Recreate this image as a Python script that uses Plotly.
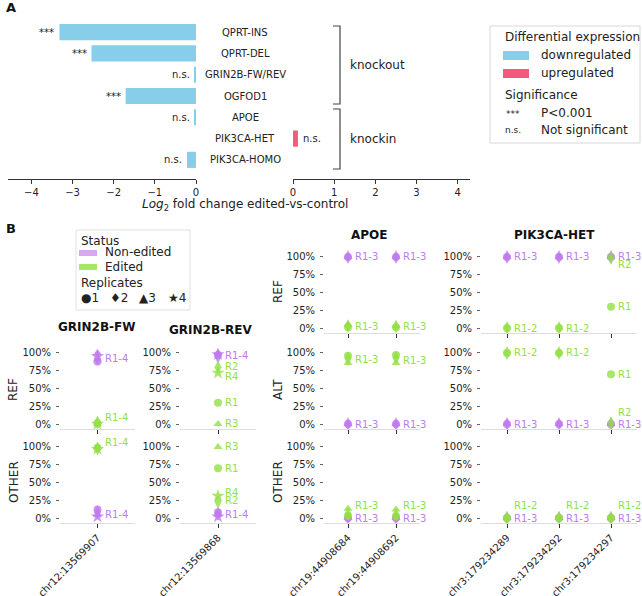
import plotly.graph_objects as go

W, H = 642, 596
FONT = "DejaVu Sans"
TXT = "#222222"


def PX(x):
    return x / W


def PY(y):
    return 1 - y / H


# ---------------- Panel A data ----------------
genes = ["QPRT-INS", "QPRT-DEL", "GRIN2B-FW/REV", "OGFOD1", "APOE", "PIK3CA-HET", "PIK3CA-HOMO"]
log2fc = [-3.32, -2.54, -0.03, -1.71, -0.03, 0.12, -0.22]
significance = ["***", "***", "n.s.", "***", "n.s.", "n.s.", "n.s."]
left_ticks = [-4, -3, -2, -1, 0]
right_ticks = [0, 1, 2, 3, 4]

DOWN = "#87CEEB"
UP = "#F25C7C"

# ---------------- Panel B data ----------------
PURPLE = "#c079f0"
GREEN = "#92e043"
rep_symbols = ["circle", "diamond-tall", "triangle-up", "star"]
pct_ticks = [0, 25, 50, 75, 100]
pct_labels = ["0%", "25%", "50%", "75%", "100%"]

sites_fw = ["chr12:13569907"]
sites_rev = ["chr12:13569868"]
sites_apoe = ["chr19:44908684", "chr19:44908692"]
sites_pik = ["chr3:179234289", "chr3:179234292", "chr3:179234297"]

# values: [site][replicate] in percent
fw_ref_non = [[88, 92, 100, 95]]
fw_ref_edit = [[1, 2, 0, 0]]
fw_other_non = [[12, 8, 5, 2]]
fw_other_edit = [[99, 98, 100, 97]]

rev_ref_non = [[97, 95, 100, 98]]
rev_ref_edit = [[30, 80, 0, 72]]
rev_other_non = [[8, 6, 5, 2]]
rev_other_edit = [[70, 23, 100, 31]]

apoe_ref_non = [[100, 100, 100], [100, 100, 100]]
apoe_ref_edit = [[1, 3, 5], [1, 2, 3]]
apoe_alt_non = [[0, 0, 0], [0, 0, 0]]
apoe_alt_edit = [[96, 92, 86], [97, 93, 86]]
apoe_other_non = [[0, 0, 0], [0, 0, 0]]
apoe_other_edit = [[3, 6, 13], [2, 5, 12]]

pik_ref_non = [[100, 100, 100], [100, 100, 100], [100, 100, 100]]
pik_ref_edit = [[0, 0], [0, 0], [30, 99]]
pik_alt_non = [[0, 0, 0], [0, 0, 0], [0, 0, 0]]
pik_alt_edit = [[100, 100], [100, 100], [70, 1]]
pik_other_non = [[0, 0, 0], [0, 0, 0], [0, 0, 0]]
pik_other_edit = [[0, 0], [0, 0], [0, 0]]

# labels: (site index, status, text, y)
fw_ref_labels = [(0, "non", "R1-4", 92), (0, "edit", "R1-4", 9)]
fw_other_labels = [(0, "edit", "R1-4", 106), (0, "non", "R1-4", 5)]
rev_ref_labels = [(0, "non", "R1-4", 97), (0, "edit", "R2", 81), (0, "edit", "R4", 67),
                  (0, "edit", "R1", 31), (0, "edit", "R3", 1)]
rev_other_labels = [(0, "edit", "R3", 100), (0, "edit", "R1", 70), (0, "edit", "R4", 36),
                    (0, "edit", "R2", 24), (0, "non", "R1-4", 5)]
apoe_ref_labels = [(0, "non", "R1-3", 100), (1, "non", "R1-3", 100),
                   (0, "edit", "R1-3", 2), (1, "edit", "R1-3", 2)]
apoe_alt_labels = [(0, "edit", "R1-3", 91), (1, "edit", "R1-3", 90),
                   (0, "non", "R1-3", 0), (1, "non", "R1-3", 0)]
apoe_other_labels = [(0, "edit", "R1-3", 18), (1, "edit", "R1-3", 18),
                     (0, "non", "R1-3", 0), (1, "non", "R1-3", 0)]
pik_ref_labels = [(0, "non", "R1-3", 100), (1, "non", "R1-3", 100), (2, "non", "R1-3", 100),
                  (2, "edit", "R2", 89), (2, "edit", "R1", 30),
                  (0, "edit", "R1-2", 0), (1, "edit", "R1-2", 0)]
pik_alt_labels = [(0, "edit", "R1-2", 101), (1, "edit", "R1-2", 101), (2, "edit", "R1", 70),
                  (2, "edit", "R2", 16), (0, "non", "R1-3", 0), (1, "non", "R1-3", 0),
                  (2, "non", "R1-3", 0)]
pik_other_labels = [(0, "edit", "R1-2", 18), (1, "edit", "R1-2", 18), (2, "edit", "R1-2", 18),
                    (0, "non", "R1-3", 0), (1, "non", "R1-3", 0), (2, "non", "R1-3", 0)]

subplots = [
    dict(col=0, row=1, sites=sites_fw, non=fw_ref_non, edit=fw_ref_edit, labels=fw_ref_labels),
    dict(col=0, row=2, sites=sites_fw, non=fw_other_non, edit=fw_other_edit, labels=fw_other_labels),
    dict(col=1, row=1, sites=sites_rev, non=rev_ref_non, edit=rev_ref_edit, labels=rev_ref_labels),
    dict(col=1, row=2, sites=sites_rev, non=rev_other_non, edit=rev_other_edit, labels=rev_other_labels),
    dict(col=2, row=0, sites=sites_apoe, non=apoe_ref_non, edit=apoe_ref_edit, labels=apoe_ref_labels),
    dict(col=2, row=1, sites=sites_apoe, non=apoe_alt_non, edit=apoe_alt_edit, labels=apoe_alt_labels),
    dict(col=2, row=2, sites=sites_apoe, non=apoe_other_non, edit=apoe_other_edit, labels=apoe_other_labels),
    dict(col=3, row=0, sites=sites_pik, non=pik_ref_non, edit=pik_ref_edit, labels=pik_ref_labels),
    dict(col=3, row=1, sites=sites_pik, non=pik_alt_non, edit=pik_alt_edit, labels=pik_alt_labels),
    dict(col=3, row=2, sites=sites_pik, non=pik_other_non, edit=pik_other_edit, labels=pik_other_labels),
]

col_px = {0: (60, 135), 1: (180, 256), 2: (324, 420), 3: (481, 637)}
row_px = {0: (252, 333), 1: (348, 429), 2: (442, 523)}

fig = go.Figure()
annotations = []
shapes = []

# ---------------- Panel A ----------------
neg = [v if v < 0 else None for v in log2fc]
pos = [v if v > 0 else None for v in log2fc]
fig.add_trace(go.Bar(x=neg, y=genes, orientation="h", xaxis="x", yaxis="y",
                     marker=dict(color=DOWN, line=dict(width=0)), width=0.76, showlegend=False))
fig.add_trace(go.Bar(x=pos, y=genes, orientation="h", xaxis="x2", yaxis="y",
                     marker=dict(color=UP, line=dict(width=0)), width=0.76, showlegend=False))

layout = dict(
    width=W, height=H, margin=dict(l=0, r=0, t=0, b=0, pad=0, autoexpand=False),
    paper_bgcolor="white", plot_bgcolor="rgba(0,0,0,0)",
    font=dict(family=FONT, color=TXT, size=10),
    barmode="overlay", showlegend=False,
)
axA = dict(showline=True, linecolor="#333", linewidth=1, ticks="outside", ticklen=4,
           tickcolor="#333", showgrid=False, zeroline=False, tickfont=dict(size=10, color=TXT),
           anchor="y", automargin=False)
layout["xaxis"] = dict(axA, domain=[PX(8), PX(196)], range=[-4.57, 0], tickvals=left_ticks)
layout["xaxis2"] = dict(axA, domain=[PX(293), PX(470)], range=[0, 4.3], tickvals=right_ticks)
layout["yaxis"] = dict(domain=[PY(179), PY(13)], type="category", categoryarray=genes,
                       range=[6.9, -0.9], visible=False, anchor="x", automargin=False)

for g, v, s in zip(genes, log2fc, significance):
    annotations.append(dict(xref="paper", yref="y", x=PX(245), y=g, text=g, showarrow=False,
                            xanchor="center", font=dict(size=10, color=TXT)))
    if v < 0:
        annotations.append(dict(xref="x", yref="y", x=v, y=g, text=s, showarrow=False,
                                xanchor="right", xshift=-3, font=dict(size=10, color=TXT)))
    else:
        annotations.append(dict(xref="x2", yref="y", x=v, y=g, text=s, showarrow=False,
                                xanchor="left", xshift=3, font=dict(size=10, color=TXT)))

annotations.append(dict(xref="paper", yref="paper", x=PX(245), y=PY(205),
                        text="<i>Log</i><sub>2</sub> fold change edited-vs-control",
                        showarrow=False, xanchor="center", yanchor="middle",
                        font=dict(size=12, color=TXT)))

# brackets
for (t, b, label, ly) in [(26, 104, "knockout", 65), (109, 169, "knockin", 139)]:
    path = f"M {PX(333)} {PY(t)} L {PX(340)} {PY(t)} L {PX(340)} {PY(b)} L {PX(333)} {PY(b)}"
    shapes.append(dict(type="path", xref="paper", yref="paper", path=path,
                       line=dict(color="#444", width=1.2)))
    annotations.append(dict(xref="paper", yref="paper", x=PX(348), y=PY(ly), text=label,
                            showarrow=False, xanchor="left", yanchor="middle",
                            font=dict(size=12, color=TXT)))

# legend A
shapes.append(dict(type="rect", xref="paper", yref="paper", x0=PX(490), x1=PX(640),
                   y0=PY(143), y1=PY(26), line=dict(color="#d8d8d8", width=1), fillcolor="white"))


def ltext(x, y, t, size=12, anchor="left"):
    annotations.append(dict(xref="paper", yref="paper", x=PX(x), y=PY(y), text=t, showarrow=False,
                            xanchor=anchor, yanchor="middle", font=dict(size=size, color=TXT)))


ltext(503, 37, "Differential expression")
shapes.append(dict(type="rect", xref="paper", yref="paper", x0=PX(503), x1=PX(529),
                   y0=PY(60), y1=PY(51), line=dict(width=0), fillcolor=DOWN))
ltext(539, 55, "downregulated")
shapes.append(dict(type="rect", xref="paper", yref="paper", x0=PX(503), x1=PX(529),
                   y0=PY(78), y1=PY(69), line=dict(width=0), fillcolor=UP))
ltext(539, 73, "upregulated")
ltext(503, 95, "Significance")
ltext(513, 114, "***", size=9, anchor="center")
ltext(539, 113, "P&lt;0.001")
ltext(513, 130, "n.s.", size=9, anchor="center")
ltext(539, 130, "Not significant")

# panel letters
annotations.append(dict(xref="paper", yref="paper", x=PX(4), y=PY(8), text="<b>A</b>",
                        showarrow=False, xanchor="left", yanchor="middle", font=dict(size=13, color="#111")))
annotations.append(dict(xref="paper", yref="paper", x=PX(4), y=PY(228), text="<b>B</b>",
                        showarrow=False, xanchor="left", yanchor="middle", font=dict(size=13, color="#111")))

# ---------------- Panel B ----------------
for k, sp in enumerate(subplots):
    n = k + 3
    xa, ya = f"x{n}", f"y{n}"
    sites = sp["sites"]
    c0, c1 = col_px[sp["col"]]
    r0, r1 = row_px[sp["row"]]
    layout[f"xaxis{n}"] = dict(domain=[PX(c0), PX(c1)], anchor=ya, type="category",
                               categoryarray=sites, range=[-0.5, len(sites) - 0.5],
                               showline=True, linecolor="#dddddd", linewidth=1, ticks="outside",
                               ticklen=4, tickcolor="#333", showticklabels=(sp["row"] == 2),
                               tickangle=-45, tickfont=dict(size=10, color=TXT),
                               showgrid=False, zeroline=False, automargin=False)
    layout[f"yaxis{n}"] = dict(domain=[PY(r1), PY(r0)], anchor=xa, range=[-7, 107],
                               tickvals=pct_ticks, ticktext=pct_labels, ticks="outside", ticklen=3,
                               tickcolor="#666", showline=False, showgrid=False, zeroline=False,
                               tickfont=dict(size=10, color=TXT), automargin=False,
                               ticklabelstandoff=3)
    for status, color in (("non", PURPLE), ("edit", GREEN)):
        vals = sp[status]
        nrep = len(vals[0])
        for r in range(nrep):
            fig.add_trace(go.Scatter(
                x=[sites[i] for i in range(len(sites))],
                y=[vals[i][r] for i in range(len(sites))],
                mode="markers", xaxis=xa, yaxis=ya, showlegend=False,
                marker=dict(symbol=rep_symbols[r], color=color, opacity=0.8,
                            size=10 if rep_symbols[r] in ("star", "diamond-tall") else 8,
                            line=dict(width=0)),
                cliponaxis=False))
    for (si, status, text, yv) in sp["labels"]:
        annotations.append(dict(xref=xa, yref=ya, x=sites[si], y=yv, text=text, showarrow=False,
                                xanchor="left", yanchor="middle", xshift=5,
                                font=dict(size=10, color=PURPLE if status == "non" else GREEN)))

# panel titles
for (t, x, y) in [("GRIN2B-FW", 97, 327), ("GRIN2B-REV", 211, 330), ("APOE", 369, 235),
                  ("PIK3CA-HET", 554, 235)]:
    annotations.append(dict(xref="paper", yref="paper", x=PX(x), y=PY(y), text=f"<b>{t}</b>",
                            showarrow=False, xanchor="center", yanchor="middle",
                            font=dict(size=12, color="#111")))

# row titles
for (t, x, y) in [("REF", 13, 390), ("OTHER", 14, 482), ("REF", 278, 292), ("ALT", 278, 390),
                  ("OTHER", 278, 482)]:
    annotations.append(dict(xref="paper", yref="paper", x=PX(x), y=PY(y), text=t, textangle=-90,
                            showarrow=False, xanchor="center", yanchor="middle",
                            font=dict(size=12, color=TXT)))

# legend B
shapes.append(dict(type="rect", xref="paper", yref="paper", x0=PX(76), x1=PX(190),
                   y0=PY(310), y1=PY(230), line=dict(color="#e0e0e0", width=1), fillcolor="white"))
ltext(79, 241, "Status")
shapes.append(dict(type="rect", xref="paper", yref="paper", x0=PX(79), x1=PX(97),
                   y0=PY(256), y1=PY(250), line=dict(width=0), fillcolor="#d9a6f5"))
ltext(103, 252, "Non-edited")
shapes.append(dict(type="rect", xref="paper", yref="paper", x0=PX(79), x1=PX(97),
                   y0=PY(270), y1=PY(264), line=dict(width=0), fillcolor="#a6e860"))
ltext(103, 267, "Edited")
ltext(79, 283, "Replicates")
ltext(79, 298, "●1")
ltext(108, 298, "♦2")
ltext(137, 298, "▲3")
ltext(166, 298, "★4")

layout["annotations"] = annotations
layout["shapes"] = shapes
fig.update_layout(layout)
fig.write_html("out.html", config={"displayModeBar": False},
               post_script="document.body.style.margin='0';document.body.style.overflow='hidden';")
